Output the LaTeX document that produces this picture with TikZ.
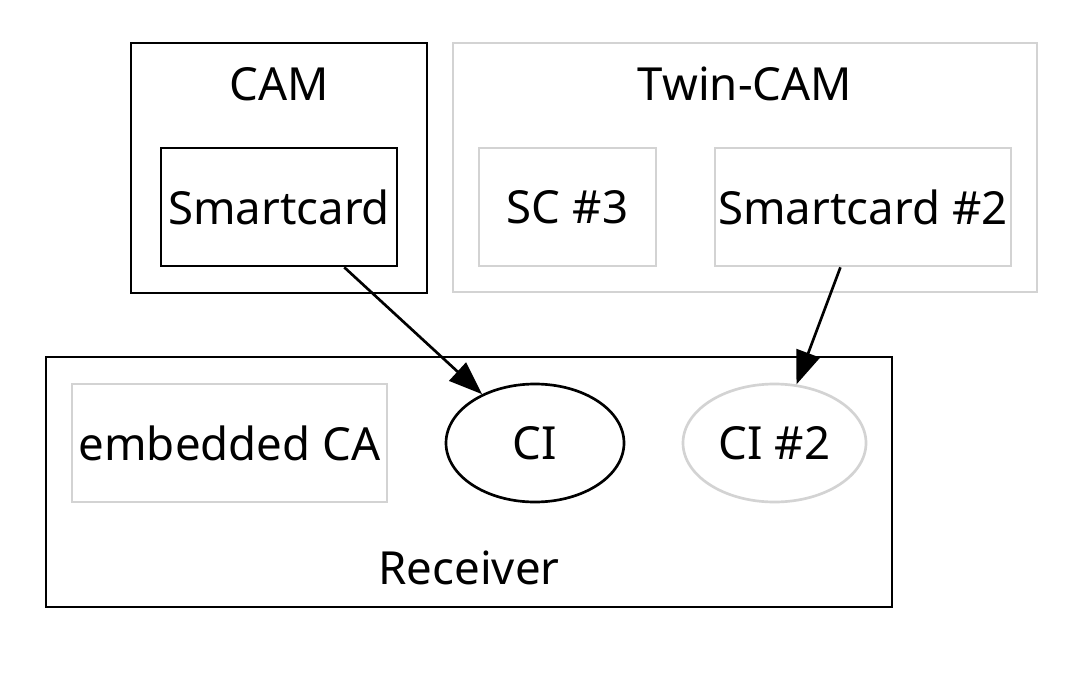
\documentclass[tikz,border=0pt]{standalone}
\usepackage{fontspec}
\setmainfont{Noto Sans}
\usetikzlibrary{shapes.geometric,arrows.meta}
\definecolor{lgray}{HTML}{D3D3D3}
\tikzset{
  box/.style={draw, line width=2pt, inner sep=0pt, font=\fontsize{34.2}{41}\selectfont},
  graybox/.style={box, draw=lgray},
  oval/.style={box, ellipse},
  lbl/.style={inner sep=0pt, font=\fontsize{34.2}{41}\selectfont},
  edge/.style={line width=2pt, -{Triangle[length=25pt,width=18.5pt]}, shorten >=0pt}
}
\begin{document}
\begin{tikzpicture}[x=0.75pt,y=-0.75pt]
\useasboundingbox (0,0) rectangle (1080,681);
% clusters
\node[box, minimum width=296*0.75pt, minimum height=250*0.75pt] (cam) at (279,168) {};
\node[lbl] (camlbl) at (279,84) {CAM};
\node[graybox, minimum width=584*0.75pt, minimum height=249*0.75pt] (twin) at (745,167.5) {};
\node[lbl] (twinlbl) at (745,84) {Twin-CAM};
\node[box, minimum width=846*0.75pt, minimum height=250*0.75pt] (recv) at (469,482) {};
\node[lbl] (recvlbl) at (469,568) {Receiver};
% nodes
\node[box, minimum width=236*0.75pt, minimum height=118*0.75pt] (sc) at (279,207) {Smartcard};
\node[graybox, minimum width=177*0.75pt, minimum height=118*0.75pt] (sc3) at (567.5,207) {SC \#3};
\node[graybox, minimum width=296*0.75pt, minimum height=118*0.75pt] (sc2) at (863,207) {Smartcard \#2};
\node[graybox, minimum width=315*0.75pt, minimum height=118*0.75pt] (eca) at (229.5,443) {embedded CA};
\node[oval, minimum width=178*0.75pt, minimum height=118*0.75pt] (ci) at (535,443) {CI};
\node[oval, draw=lgray, minimum width=183*0.75pt, minimum height=118*0.75pt] (ci2) at (774.5,443) {CI \#2};
% edges
\draw[edge] (sc) -- (ci);
\draw[edge] (sc2) -- (ci2);
\end{tikzpicture}
\end{document}
